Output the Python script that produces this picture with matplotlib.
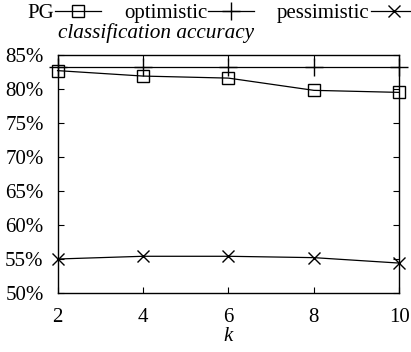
import matplotlib
matplotlib.use('Agg')
import matplotlib.pyplot as plt
from matplotlib.ticker import FuncFormatter

plt.rcParams['font.family'] = ['Liberation Serif', 'DejaVu Serif']
plt.rcParams['font.size'] = 15

# data (accuracy in %)
k = [2, 4, 6, 8, 10]
pg = [82.7, 81.9, 81.6, 79.8, 79.5]
optimistic = [83.3, 83.3, 83.3, 83.3, 83.3]
pessimistic = [55.0, 55.4, 55.4, 55.2, 54.4]
y_ticks = [50, 55, 60, 65, 70, 75, 80, 85]

fig = plt.figure(figsize=(4.11, 3.52), dpi=100)
ax = fig.add_axes([0.14, 0.1676, 0.8315, 0.6762])

ax.plot(k, pg, color='black', lw=0.9, marker='s', ms=9, mfc='none', mew=1.0,
        clip_on=False, label='PG')
ax.plot(k, optimistic, color='black', lw=0.9, marker='+', ms=13, mew=1.0,
        clip_on=False, label='optimistic')
ax.plot(k, pessimistic, color='black', lw=0.9, marker='x', ms=9, mew=1.0,
        clip_on=False, label='pessimistic')

ax.set_xlim(2, 10)
ax.set_ylim(50, 85)
ax.set_xticks(k)
ax.set_yticks(y_ticks)
ax.yaxis.set_major_formatter(FuncFormatter(lambda v, p: f'{v:.0f}%'))
ax.tick_params(direction='in', length=4, width=0.8, top=True, right=True)
ax.tick_params(axis='y', pad=10)
ax.tick_params(axis='x', pad=11)
for s in ax.spines.values():
    s.set_linewidth(1.0)

ax.set_xlabel('k', style='italic', labelpad=0)
fig.text(58 / 411, 1 - 38 / 352, 'classification accuracy', style='italic',
         ha='left', va='baseline', fontsize=15.3)

ax.legend(loc='center', bbox_to_anchor=(0.54, 0.962), bbox_transform=fig.transFigure,
          ncol=3, markerfirst=False, frameon=False, handlelength=2.2,
          handletextpad=0.05, columnspacing=1.1, borderaxespad=0, borderpad=0)

fig.savefig('out.png', dpi=100)
